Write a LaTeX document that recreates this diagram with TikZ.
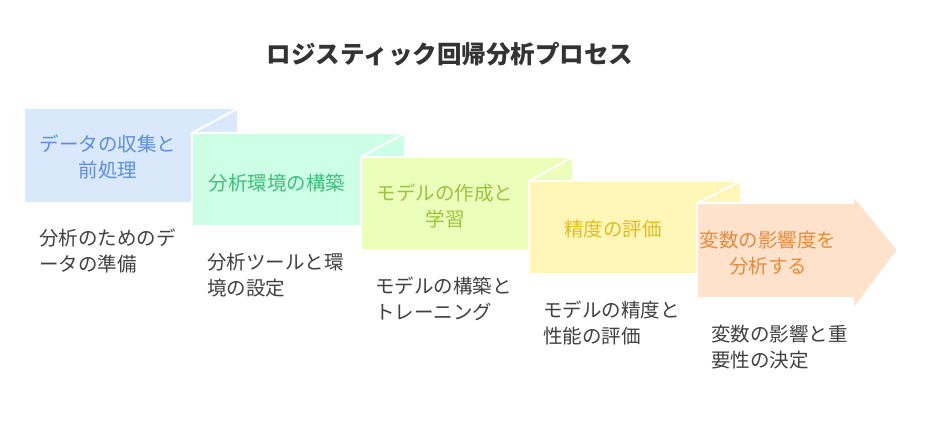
\documentclass[tikz,border=0pt]{standalone}
\usepackage{fontspec}
\setmainfont{Noto Sans CJK JP}
\begin{document}
\begin{tikzpicture}[x=1pt,y=-1pt,
  lbl/.style={font=\fontsize{19.5}{26}\selectfont,align=center},
  desc/.style={font=\fontsize{19.5}{26}\selectfont,align=left,anchor=north west,text=black!75,inner sep=0},
  sep/.style={draw=white,line width=2pt}]
\useasboundingbox (0,0) rectangle (925,420);
\definecolor{c1}{HTML}{DAE8FC}\definecolor{t1}{HTML}{5B8FE0}
\definecolor{c2}{HTML}{CCFFE6}\definecolor{t2}{HTML}{3CC07A}
\definecolor{c3}{HTML}{EBFFBA}\definecolor{t3}{HTML}{9BC23C}
\definecolor{c4}{HTML}{FFF6B8}\definecolor{t4}{HTML}{E0BE20}
\definecolor{c5}{HTML}{FFE2CB}\definecolor{t5}{HTML}{E88A3C}
\node[font=\fontsize{24.5}{28}\selectfont\bfseries,text=black!80] (title) at (450,54) {ロジスティック回帰分析プロセス};
% panels
\fill[c1] (25,109) rectangle (237,202);
\fill[c2,sep] (192,133) rectangle (405,226);
\draw[sep] (192,133) -- (237,109);
\fill[c3,sep] (361,157) rectangle (573,250);
\draw[sep] (361,157) -- (405,133);
\fill[c4,sep] (529,181) rectangle (741,274);
\draw[sep] (529,181) -- (573,157);
\fill[c5,sep] (697,203) -- (853,203) -- (853,195) -- (898,250) -- (853,310) -- (853,298) -- (697,298) -- cycle;
\draw[sep] (697,203) -- (741,181);
\node[lbl,text=t1] (p1) at (108,157) {データの収集と\\前処理};
\node[lbl,text=t2] (p2) at (277,183) {分析環境の構築};
\node[lbl,text=t3] (p3) at (445,206) {モデルの作成と\\学習};
\node[lbl,text=t4] (p4) at (613,229) {精度の評価};
\node[lbl,text=t5] (p5) at (768,253) {変数の影響度を\\分析する};
\node[desc] (d1) at (39,229) {分析のためのデ\\ータの準備};
\node[desc] (d2) at (207,253) {分析ツールと環\\境の設定};
\node[desc] (d3) at (375,277) {モデルの構築と\\トレーニング};
\node[desc] (d4) at (543,301) {モデルの精度と\\性能の評価};
\node[desc] (d5) at (711,325) {変数の影響と重\\要性の決定};
\end{tikzpicture}
\end{document}
